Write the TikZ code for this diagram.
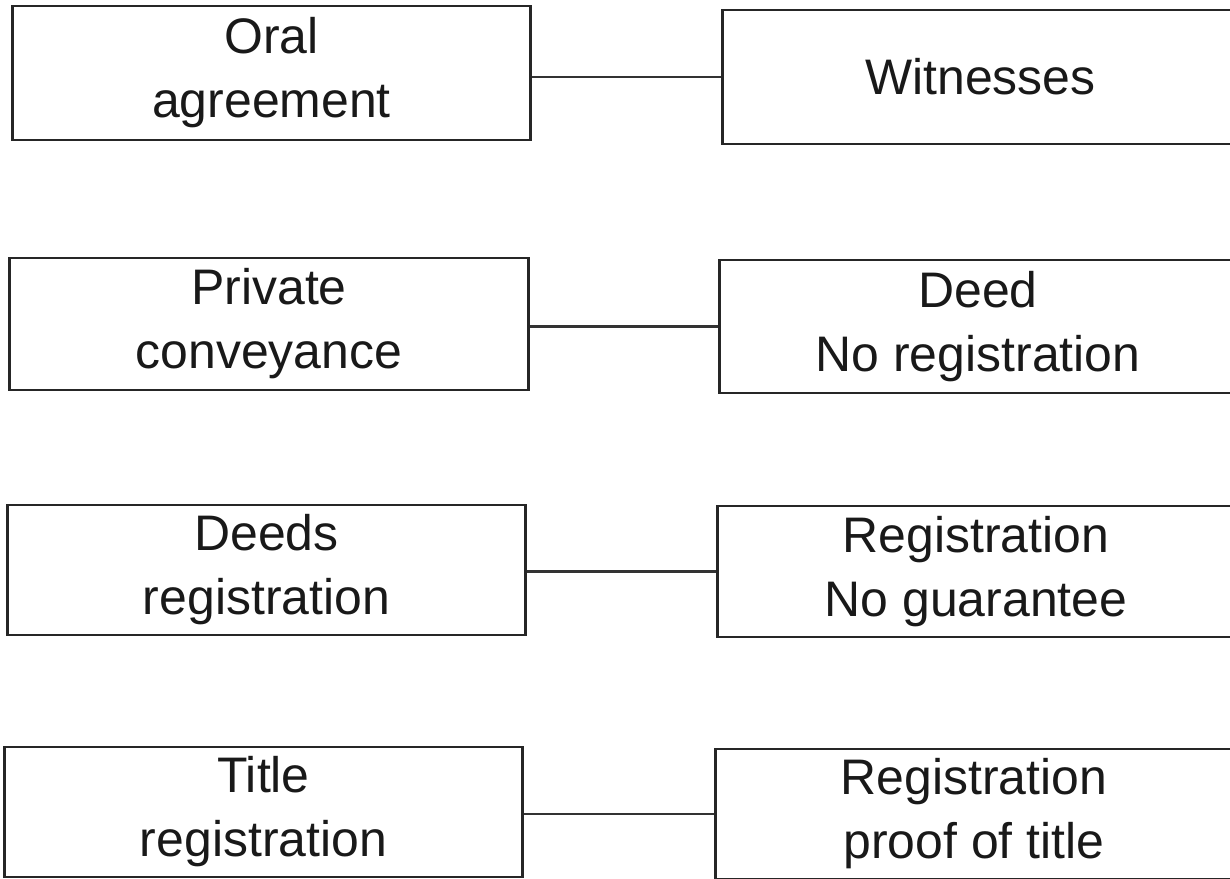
\documentclass[tikz,border=0pt]{standalone}
\usepackage{fontspec}
\setmainfont{Liberation Sans}
\begin{document}
\begin{tikzpicture}[x=0.01cm,y=-0.01cm,
  box/.style={draw=black!85, line width=0.8pt, rectangle, align=center, inner sep=0pt,
    font=\fontsize{14.2}{18.2}\selectfont, text=black!90},
  link/.style={draw=black!80, line width=0.6pt}]
\useasboundingbox (0,0) rectangle (1230,878);
% left column
\node[box, minimum width=5.17cm, minimum height=1.34cm] (l1) at (271.5,73) {Oral\\agreement};
\node[box, minimum width=5.18cm, minimum height=1.32cm] (l2) at (269,324) {Private\\conveyance};
\node[box, minimum width=5.17cm, minimum height=1.30cm] (l3) at (266.5,570) {Deeds\\registration};
\node[box, minimum width=5.17cm, minimum height=1.30cm] (l4) at (263.5,812) {Title\\registration};
% right column
\node[box, minimum width=5.15cm, minimum height=1.34cm] (r1) at (980.5,77) {Witnesses};
\node[box, minimum width=5.16cm, minimum height=1.33cm] (r2) at (978,326.5) {Deed\\No registration};
\node[box, minimum width=5.16cm, minimum height=1.31cm] (r3) at (976,571.5) {Registration\\No guarantee};
\node[box, minimum width=5.16cm, minimum height=1.30cm] (r4) at (974,814) {Registration\\proof of title};
% connectors (horizontal)
\draw[link] (r1.west -| l1.east) -- (r1.west);
\draw[link] (r2.west -| l2.east) -- (r2.west);
\draw[link] (r3.west -| l3.east) -- (r3.west);
\draw[link] (r4.west -| l4.east) -- (r4.west);
\end{tikzpicture}
\end{document}
